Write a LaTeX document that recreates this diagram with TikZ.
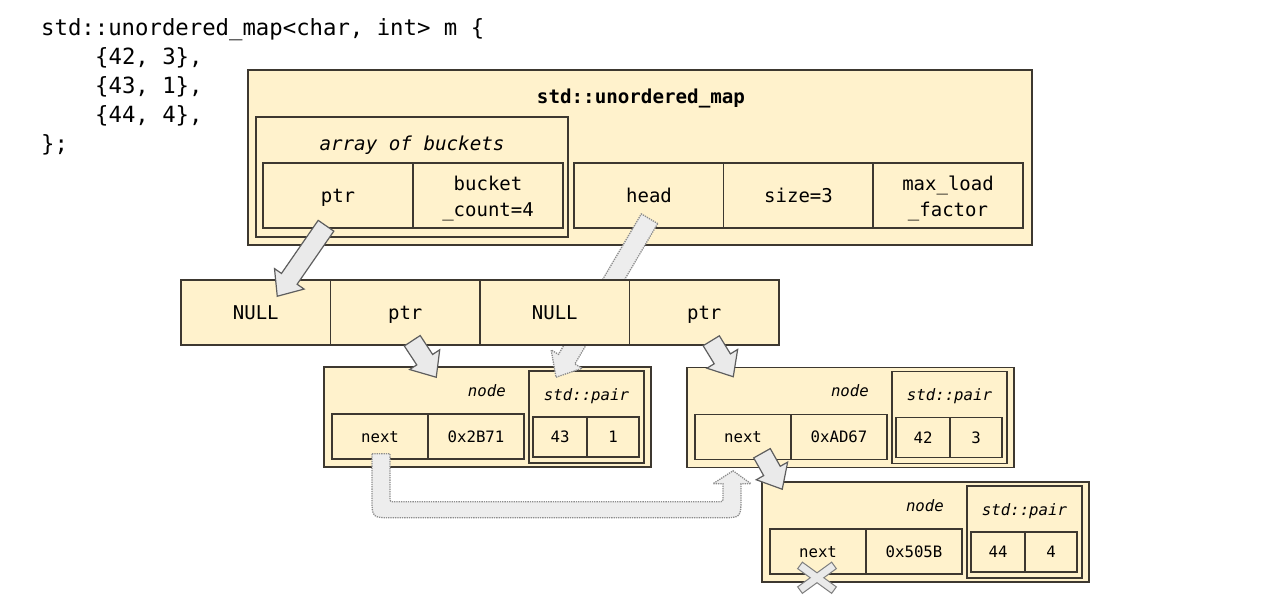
\documentclass[tikz,border=0pt]{standalone}
\usepackage{fontspec}
\setmainfont{DejaVu Sans Mono}[ItalicFont={DejaVu Sans Mono Oblique},BoldFont={DejaVu Sans Mono Bold}]
\usetikzlibrary{calc}
\definecolor{boxfill}{HTML}{FFF2CC}
\definecolor{boxline}{HTML}{3D3830}
\definecolor{arrfill}{HTML}{EAEAEA}
\definecolor{arrline}{HTML}{5E5E5E}
\definecolor{dotline}{HTML}{8C8C8C}
\newcommand\hashnode[6]{%
\begin{scope}[shift={(#2,#3)}]
 \node[box, minimum width=327pt, minimum height=100pt] (#1) at (487.5,417) {};
 \node[ncell, minimum width=96pt, minimum height=45pt] (#1next) at (380,436.5) {next};
 \node[ncell, minimum width=96pt, minimum height=45pt] (#1addr) at (476,436.5) {#4};
 \node[nlabel, anchor=base east] (#1lab) at (506,396) {\itshape node};
 \node[box, minimum width=115pt, minimum height=92pt] (#1pair) at (586.5,417) {};
 \node[nlabel, anchor=base] (#1plab) at (586.5,400) {\itshape std::pair};
 \node[ncell, minimum width=54pt, minimum height=40pt] (#1key) at (560,437) {#5};
 \node[ncell, minimum width=52pt, minimum height=40pt] (#1val) at (613,437) {#6};
\end{scope}}
\begin{document}
\begin{tikzpicture}[x=1pt,y=-1pt,
 box/.style={draw=boxline, fill=boxfill, line width=1.5pt, inner sep=0pt, rectangle},
 cellbase/.style={box, minimum width=150pt, minimum height=65pt, font=\fontsize{19}{26}\selectfont,
   align=center},
 cell/.style={cellbase, text height=14.5pt, text depth=0pt},
 celltwo/.style={cellbase, text height=41pt, text depth=0pt},
 ncell/.style={box, font=\fontsize{15.7}{19}\selectfont, text height=12.5pt, text depth=1.5pt},
 nlabel/.style={inner sep=0pt, font=\fontsize{15.7}{19}\selectfont},
 codeline/.style={inner sep=0pt, anchor=base west, font=\fontsize{22.3}{29}\selectfont},
 solidarrow/.style={draw=arrline, fill=arrfill, line width=1.2pt, line join=miter},
 dotarrow/.style={draw=dotline, fill=arrfill!85!white, line width=1.3pt, densely dotted},
 blockarrow/.style={to path={
  let \p1=(\tikztostart), \p2=(\tikztotarget),
      \n1={atan2(\y2-\y1,\x2-\x1)}, \n2={veclen(\x2-\x1,\y2-\y1)-21pt}
  in ($(\p1)+(\n1+90:9.5pt)$) -- ($(\p1)+(\n1:\n2)+(\n1+90:9.5pt)$)
  -- ($(\p1)+(\n1:\n2)+(\n1+90:18pt)$) -- (\p2)
  -- ($(\p1)+(\n1:\n2)+(\n1-90:18pt)$) -- ($(\p1)+(\n1:\n2)+(\n1-90:9.5pt)$)
  -- ($(\p1)+(\n1-90:9.5pt)$) -- cycle}}
]
\useasboundingbox (0,0) rectangle (1266,605);

% code
\node[codeline] (code1) at (41,35) {std::unordered\_map<char, int> m \{};
\node[codeline] (code2) at (95,64) {\{42, 3\},};
\node[codeline] (code3) at (95,93) {\{43, 1\},};
\node[codeline] (code4) at (95,122) {\{44, 4\},};
\node[codeline] (code5) at (41,151) {\};};

% unordered_map object
\node[box, minimum width=784pt, minimum height=175pt] (map) at (640,157.5) {};
\node[inner sep=0pt, anchor=base, font=\fontsize{19.2}{24}\selectfont\bfseries] (maptitle) at (641,103) {std::unordered\_map};
\node[box, minimum width=312pt, minimum height=120pt] (arr) at (412,177) {};
\node[inner sep=0pt, anchor=base, font=\fontsize{19.2}{24}\selectfont\itshape] (arrtitle) at (412,150) {array of buckets};
\node[cell] (cptr) at (338,195.5) {ptr};
\node[celltwo] (ccount) at (488,195.5) {bucket\\\_count=4};
\node[cell] (chead) at (649,195.5) {head};
\node[cell] (csize) at (798.5,195.5) {size=3};
\node[celltwo] (cmlf) at (948,195.5) {max\_load\\\_factor};

% hash nodes
\hashnode{n1}{0}{0}{0x2B71}{43}{1}
\hashnode{n2}{363}{0.5}{0xAD67}{42}{3}
\hashnode{n3}{438}{115}{0x505B}{44}{4}

% head -> first element (behind bucket array)
\coordinate (a2t) at ($(chead.south)+(0.5,-10)$);
\coordinate (a2h) at ($(n1pair.north)+(-30.5,7)$);
\draw[dotarrow] (a2t) to[blockarrow] (a2h);

% bucket array
\node[cell, minimum width=149.5pt] (b0) at (255.75,312.5) {NULL};
\node[cell, minimum width=149.5pt] (b1) at (405.25,312.5) {ptr};
\node[cell, minimum width=149.5pt] (b2) at (554.75,312.5) {NULL};
\node[cell, minimum width=149.5pt] (b3) at (704.25,312.5) {ptr};

% next pointer of node 1 -> node 2 (dotted, curved)
\coordinate (c1s) at ($(n1next.south)+(1,-6)$);
\begin{scope}[shift={(c1s)}]
\draw[dotarrow] (-9,0) -- (9,0) -- (9,43) .. controls (9,48) .. (14,48) -- (337,48)
  .. controls (342,48) .. (342,43) -- (342,30) -- (332,30) -- (352,17) -- (370,30)
  -- (360,30) -- (360,44) .. controls (360,64) .. (340,64) -- (11,64)
  .. controls (-9,64) .. (-9,44) -- cycle;
\end{scope}

% solid arrows
\coordinate (a1t) at ($(cptr.south)+(-12,-3)$);
\coordinate (a1h) at ($(b0.north)+(21.5,17)$);
\draw[solidarrow] (a1t) to[blockarrow] (a1h);
\coordinate (a3t) at ($(b1.south)+(7,-5)$);
\coordinate (a3h) at ($(n1.north west)+(113,11)$);
\draw[solidarrow] (a3t) to[blockarrow] (a3h);
\coordinate (a4t) at ($(b3.south)+(7,-5)$);
\coordinate (a4h) at ($(n2.north west)+(47,10)$);
\draw[solidarrow] (a4t) to[blockarrow] (a4h);
\coordinate (a5t) at ($(n2next.south)+(19,-7)$);
\coordinate (a5h) at ($(n3.north west)+(21,8)$);
\draw[solidarrow] (a5t) to[blockarrow] (a5h);

% null marker
\coordinate (xc) at ($(n3next.south)+(-1,3)$);
\begin{scope}[shift={(xc)}]
\draw[fill=arrfill, draw=arrline!80, line width=1pt, line join=miter]
  (19.35,9.11) -- (14.65,15.59) -- (0,4.94) -- (-14.65,15.59) -- (-19.35,9.11)
  -- (-6.8,0) -- (-19.35,-9.11) -- (-14.65,-15.59) -- (0,-4.94) -- (14.65,-15.59)
  -- (19.35,-9.11) -- (6.8,0) -- cycle;
\end{scope}
\end{tikzpicture}
\end{document}
